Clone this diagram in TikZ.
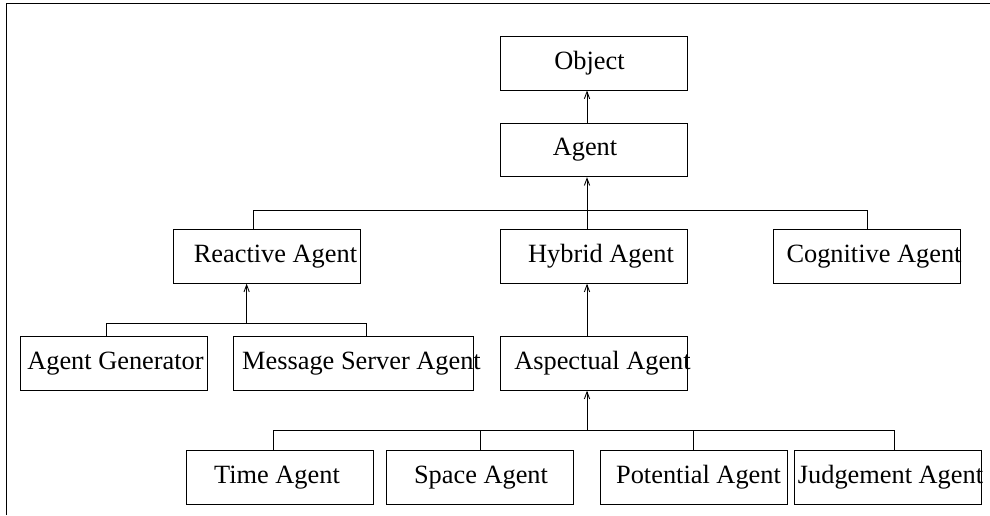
\documentclass[tikz,border=0pt]{standalone}
\usepackage{fontspec}
\setmainfont{Liberation Serif}
\usetikzlibrary{arrows.meta}

\tikzset{
  cls/.style={draw, line width=0.55pt, minimum width=3.74cm, minimum height=1.067cm, inner sep=0pt},
  txt/.style 2 args={label={[xshift=#1]center:#2}},
  up/.style={-{Straight Barb[length=4pt,width=3pt]}, line width=0.5pt},
}

\begin{document}
\begin{tikzpicture}[font=\fontsize{15}{18}\selectfont, line width=0.5pt]
\useasboundingbox (0,0) rectangle (19.8,-10.3);
\draw[line width=0.7pt] (0.134,-10.3) -- (0.134,-0.07) -- (19.8,-0.07);

% classes
\node[cls, txt={-0.08cm}{Object}] (obj) at (11.87,-1.267) {};
\node[cls, txt={-0.17cm}{Agent}] (agent) at (11.87,-3.0) {};

\node[cls, txt={0.18cm}{Reactive Agent}] (react) at (5.33,-5.13) {};
\node[cls, txt={0.15cm}{Hybrid Agent}] (hybrid) at (11.87,-5.13) {};
\node[cls, txt={0.14cm}{Cognitive Agent}] (cogn) at (17.34,-5.13) {};

\node[cls, txt={0.04cm}{Agent Generator}] (gen) at (2.27,-7.27) {};
\node[cls, minimum width=4.8cm, txt={0.17cm}{Message Server Agent}] (msg) at (7.06,-7.27) {};
\node[cls, txt={0.18cm}{Aspectual Agent}] (asp) at (11.87,-7.27) {};

\node[cls, txt={-0.06cm}{Time Agent}] (time) at (5.60,-9.547) {};
\node[cls, txt={0.02cm}{Space Agent}] (space) at (9.60,-9.547) {};
\node[cls, txt={0.10cm}{Potential Agent}] (pot) at (13.87,-9.547) {};
\node[cls, txt={0.06cm}{Judgement Agent}] (judg) at (17.75,-9.547) {};

% buses
\coordinate (spine) at (11.74,-4.213);
\coordinate (b1l) at (5.06,-4.213);
\coordinate (b1r) at (17.34,-4.213);
\coordinate (b2l) at (2.133,-6.467);
\coordinate (b2m) at (4.933,-6.467);
\coordinate (b2r) at (7.333,-6.467);
\coordinate (b3l) at (5.46,-8.613);
\coordinate (b3m) at (11.74,-8.613);
\coordinate (b3r) at (17.88,-8.613);

\draw[up] (spine |- agent.north) -- (spine |- obj.south);
\draw[up] (spine |- hybrid.north) -- (spine |- agent.south);
\draw (react.north -| b1l) -- (b1l) -- (b1r) -- (cogn.north);

\draw (gen.north -| b2l) -- (b2l) -- (b2r) -- (msg.north -| b2r);
\draw[up] (b2m) -- (b2m |- react.south);

\draw[up] (spine |- asp.north) -- (spine |- hybrid.south);

\draw (time.north -| b3l) -- (b3l) -- (b3r) -- (judg.north -| b3r);
\draw (space.north) -- (space.north |- b3l);
\draw (pot.north) -- (pot.north |- b3l);
\draw[up] (b3m) -- (b3m |- asp.south);
\end{tikzpicture}
\end{document}
